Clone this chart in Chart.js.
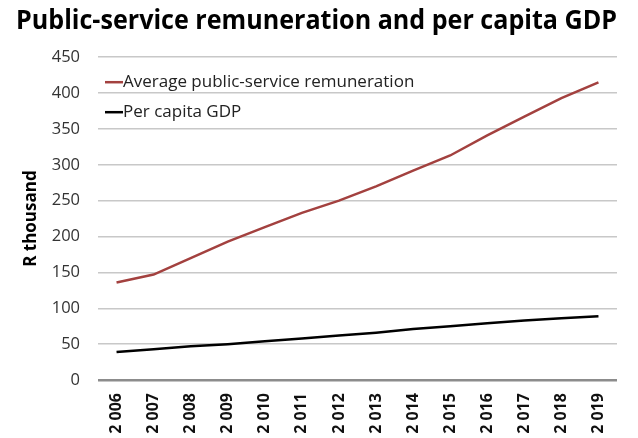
<!DOCTYPE html>
<html>
<head>
<meta charset="utf-8">
<script src="https://cdn.jsdelivr.net/npm/chart.js@4"></script>
<style>
  html, body { margin: 0; padding: 0; background: #fff; }
  #wrap { width: 638px; height: 438px; }
</style>
</head>
<body>
<div id="wrap"><canvas id="chart" width="638" height="438"></canvas></div>
<script>
const years = ['2 006','2 007','2 008','2 009','2 010','2 011','2 012','2 013','2 014','2 015','2 016','2 017','2 018','2 019'];
const remuneration = [136, 147, 170, 193, 213, 233, 250, 270, 292, 313, 341, 367, 393, 415];
const gdpPerCapita = [39, 43, 47, 50, 54, 58, 62, 66, 71, 75, 79, 83, 86, 89];
const yTicks = [0, 50, 100, 150, 200, 250, 300, 350, 400, 450];

const FONT = "'Open Sans', 'Noto Sans', sans-serif";

// legend drawn inside the plot, top-left
const insideLegend = {
  id: 'insideLegend',
  afterDraw(chart) {
    const ctx = chart.ctx;
    const area = chart.chartArea;
    ctx.save();
    ctx.font = '17px ' + FONT;
    ctx.textBaseline = 'middle';
    chart.data.datasets.forEach((ds, i) => {
      const y = area.top + 25 + i * 30;
      const x = area.left + 7;
      ctx.strokeStyle = ds.borderColor;
      ctx.lineWidth = 2.5;
      ctx.beginPath();
      ctx.moveTo(x, y);
      ctx.lineTo(x + 18, y);
      ctx.stroke();
      ctx.fillStyle = '#222';
      ctx.fillText(ds.label, x + 18, y);
    });
    ctx.restore();
  }
};

new Chart(document.getElementById('chart'), {
  type: 'line',
  data: {
    labels: years,
    datasets: [
      {
        label: 'Average public-service remuneration',
        data: remuneration,
        borderColor: '#a3413f',
        borderWidth: 2.5,
        pointRadius: 0,
        tension: 0
      },
      {
        label: 'Per capita GDP',
        data: gdpPerCapita,
        borderColor: '#000000',
        borderWidth: 2.5,
        pointRadius: 0,
        tension: 0
      }
    ]
  },
  options: {
    responsive: false,
    animation: false,
    layout: { padding: { left: 16, right: 21, top: 0, bottom: 0 } },
    plugins: {
      legend: { display: false },
      tooltip: { enabled: false },
      title: {
        display: true,
        text: 'Public-service remuneration and per capita GDP',
        color: '#000',
        font: { family: FONT, size: 26, weight: 'bold' },
        padding: { top: 6, bottom: 20 }
      }
    },
    scales: {
      x: {
        offset: true,
        grid: { display: false, drawTicks: false },
        border: { display: false },
        ticks: {
          color: '#111',
          font: { family: FONT, size: 16, weight: 'bold' },
          maxRotation: 90,
          minRotation: 90,
          padding: 13,
          autoSkip: false
        },
        afterFit(scale) { scale.height = 58; }
      },
      y: {
        min: 0,
        max: 450,
        afterBuildTicks(scale) { scale.ticks = yTicks.map(v => ({ value: v })); },
        grid: {
          drawTicks: false,
          color: ctx => ctx.tick.value === 0 ? '#8c8c8c' : '#c8c8c8',
          lineWidth: ctx => ctx.tick.value === 0 ? 2.5 : 1.5
        },
        border: { display: false },
        ticks: {
          color: '#333',
          font: { family: FONT, size: 16.5 },
          padding: 18
        },
        title: {
          display: true,
          text: 'R thousand',
          color: '#000',
          font: { family: FONT, size: 17, weight: 'bold' },
          padding: { top: 5, bottom: 0 }
        },
        afterFit(scale) { scale.width = 82; }
      }
    }
  },
  plugins: [insideLegend]
});
</script>
</body>
</html>
